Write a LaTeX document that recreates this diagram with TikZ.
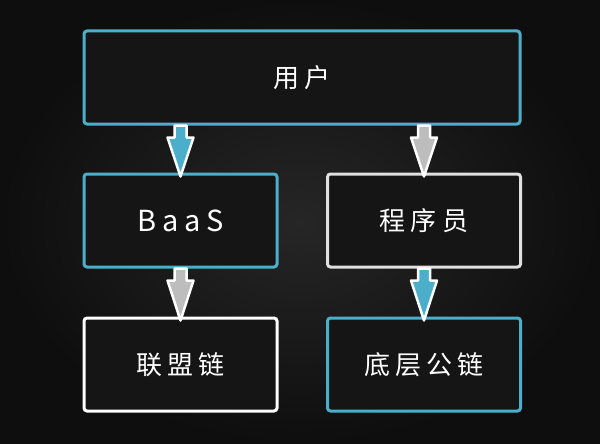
\documentclass[tikz,border=0pt]{standalone}
\usepackage{fontspec}
\usetikzlibrary{calc}
\newfontfamily\cjk{Noto Sans CJK SC}[LetterSpace=20]
\newfontfamily\cjklat{Noto Sans CJK SC}[LetterSpace=20]
\definecolor{chainblue}{HTML}{4BAFCB}
\definecolor{arrowgray}{HTML}{BDBDBD}
\definecolor{boxfill}{HTML}{151515}
\definecolor{bgin}{HTML}{262626}
\definecolor{bgout}{HTML}{0E0E0E}
\tikzset{
  layer/.style={draw=#1, line width=3pt, fill=boxfill, rounded corners=3pt,
    minimum height=93pt, text=white, font=\cjk\fontsize{26}{30}\selectfont},
  layer/.default=chainblue,
  arrowline/.style={draw=white, line width=2.5pt, line join=round}
}
% block arrow from #1 to #2, filled with #3
\newcommand\blockarrow[3]{%
  \filldraw[arrowline,fill=#3] let \p1=(#1), \p2=(#2) in
    (\x1-6pt,\y1) -- (\x1-6pt,\y1-12pt) -- (\x1-13pt,\y1-12pt) -- (\x1,\y2-4pt)
    -- (\x1+13pt,\y1-12pt) -- (\x1+6pt,\y1-12pt) -- (\x1+6pt,\y1) -- cycle;}

\begin{document}
\begin{tikzpicture}[x=1pt,y=-1pt]
\shade[inner color=bgin, outer color=bgout] (0,0) rectangle (600,444);
\useasboundingbox (0,0) rectangle (600,444);

\node[layer, minimum width=436pt] (user) at (302,77.5) {用户};
\node[layer, minimum width=193pt] (baas) at (180.5,220.5)
  {\cjklat\fontsize{29}{32}\selectfont BaaS};
\node[layer=white!88!black, minimum width=193pt] (coder) at (424,220.5) {程序员};
\node[layer=white, minimum width=193pt] (consortium) at (180.5,364.5) {联盟链};
\node[layer, minimum width=193pt] (public) at (424,364.5) {底层公链};

\coordinate (u1) at (baas.north |- user.south);
\coordinate (u2) at (coder.north |- user.south);
\blockarrow{u1}{baas.north}{chainblue}
\blockarrow{u2}{coder.north}{arrowgray}
\blockarrow{baas.south}{consortium.north}{arrowgray}
\blockarrow{coder.south}{public.north}{chainblue}
\end{tikzpicture}
\end{document}
